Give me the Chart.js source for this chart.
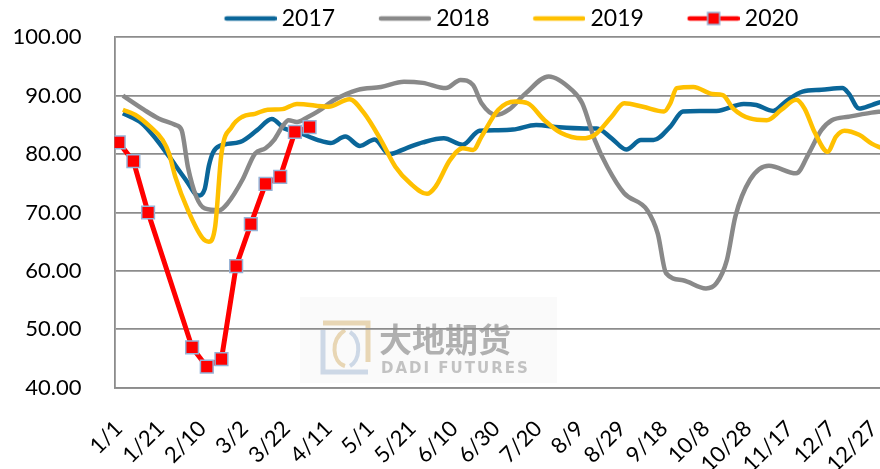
<!DOCTYPE html>
<html lang="zh">
<head>
  <meta charset="UTF-8">
  <title>开工率</title>
  <script src="https://cdn.jsdelivr.net/npm/chart.js"></script>
  <style>
    body {
      margin: 0;
      background: #fff;
      overflow: hidden;
    }
    #wrap {
      width: 986px;
      height: 469px;
    }
  </style>
</head>
<body>
  <div id="wrap"><canvas id="chart"></canvas></div>

  <script>
    // 横轴刻度（每 20 天一个）
    const tickLabels = ['1/1', '1/21', '2/10', '3/2', '3/22', '4/11', '5/1', '5/21', '6/10', '6/30',
      '7/20', '8/9', '8/29', '9/18', '10/8', '10/28', '11/17', '12/7', '12/27'];
    const tickDays = tickLabels.map((_, i) => i * 20);

    const seriesNames = ['2017', '2018', '2019', '2020'];
    const colors = ['#0A6699', '#898989', '#FFC000', '#FF0000'];

    // 数据：一年中的第几天 + 数值
    const days2017 = [2, 11, 18, 24, 32, 38, 41, 43, 45, 48, 58, 66, 73, 79, 85, 95, 101, 108, 115, 122,
      129, 137, 145, 155, 164, 172, 180, 188, 199, 210, 222, 228, 235, 242, 249, 255, 263, 269, 277, 285,
      298, 304, 312, 318, 326, 335, 345, 348, 353, 359, 364];
    const vals2017 = [87.0, 85.3, 82.5, 79.6, 75.6, 72.9, 74.0, 78.0, 80.3, 81.4, 82.1, 84.1, 86.0, 84.4, 83.8, 82.4, 81.9, 83.0, 81.4, 82.5,
      80.0, 81.0, 82.0, 82.7, 81.6, 84.0, 84.1, 84.2, 85.0, 84.6, 84.4, 84.4, 82.7, 80.8, 82.4, 82.4, 84.7, 87.3, 87.4, 87.4,
      88.6, 88.4, 87.4, 89.0, 90.7, 91.0, 91.3, 90.4, 87.8, 88.4, 89.0];

    const days2018 = [2, 12, 19, 27, 30, 33, 37, 41, 48, 52, 59, 65, 70, 74, 78, 81, 85, 90, 95, 103,
      114, 125, 136, 145, 156, 163, 169, 173, 180, 186, 194, 205, 216, 221, 227, 233, 241, 252, 257, 261,
      269, 280, 285, 290, 294, 301, 310, 323, 329, 335, 340, 348, 359, 364];
    const vals2018 = [90.0, 87.6, 86.1, 85.0, 84.1, 77.8, 72.7, 70.7, 70.4, 71.6, 75.6, 80.1, 81.0, 82.4, 84.7, 85.8, 85.5, 86.3, 87.3, 89.3,
      91.0, 91.5, 92.4, 92.2, 91.3, 92.7, 91.8, 88.7, 86.7, 87.6, 90.4, 93.3, 91.0, 88.7, 82.4, 77.8, 73.3, 70.4, 66.4, 59.6,
      58.4, 57.0, 57.9, 61.9, 69.3, 75.6, 78.0, 76.7, 80.1, 84.1, 85.8, 86.4, 87.1, 87.3];

    const days2019 = [2, 8, 15, 21, 24, 27, 33, 40, 43, 46, 49, 54, 59, 65, 71, 78, 85, 100, 110, 117,
      125, 132, 139, 147, 151, 158, 164, 169, 173, 181, 189, 195, 203, 211, 221, 227, 235, 241, 250, 260,
      263, 266, 274, 283, 288, 293, 301, 309, 316, 323, 327, 332, 338, 342, 346, 353, 359, 364];
    const vals2019 = [87.6, 86.7, 84.7, 82.4, 80.1, 76.1, 70.4, 65.6, 65.0, 67.6, 80.1, 84.7, 86.4, 86.9, 87.6, 87.7, 88.6, 88.1, 89.4, 87.0,
      82.4, 77.8, 75.0, 73.2, 74.4, 79.0, 81.0, 80.7, 83.0, 87.6, 89.0, 88.7, 85.8, 83.6, 82.7, 83.3, 86.4, 88.7, 88.1, 87.3,
      88.7, 91.3, 91.5, 90.3, 90.1, 87.8, 86.1, 85.8, 87.6, 89.3, 87.8, 83.6, 80.4, 83.0, 84.0, 83.3, 81.8, 81.0];

    const days2020 = [0, 7, 14, 35, 42, 49, 56, 63, 70, 77, 84, 91];
    const vals2020 = [82.0, 78.8, 70.0, 46.9, 43.6, 44.9, 60.8, 68.0, 74.9, 76.1, 83.8, 84.6];

    const toPoints = (days, vals) => days.map((d, i) => ({ x: d, y: vals[i] }));

    // 图例小图标：线段（2020 带方块）
    const BOX = 82.5;
    function legendIcon(color, marker) {
      const c = document.createElement('canvas');
      c.width = 2 * (BOX / 2 + 6.5);
      c.height = 16;
      const g = c.getContext('2d');
      const x0 = c.width - 52;
      g.strokeStyle = color;
      g.lineWidth = 4.5;
      g.lineCap = 'round';
      g.beginPath();
      g.moveTo(x0 + 2, 8);
      g.lineTo(c.width - 2, 8);
      g.stroke();
      if (marker) {
        g.fillStyle = '#FF0000';
        g.strokeStyle = '#95B3D7';
        g.lineWidth = 1.5;
        g.fillRect(x0 + 20, 2, 12, 12);
        g.strokeRect(x0 + 20, 2, 12, 12);
      }
      return c;
    }
    const icons = colors.map((c, i) => legendIcon(c, i === 3));

    const watermark = {
      id: 'watermark',
      beforeDraw(chart) {
        const ctx = chart.ctx;
        ctx.save();
        ctx.fillStyle = '#FAFAFA';
        ctx.fillRect(300, 297, 257, 86);
        // logo
        ctx.lineWidth = 5;
        ctx.strokeStyle = '#CDD8E6';
        ctx.beginPath();
        ctx.moveTo(323, 330);
        ctx.lineTo(323, 372);
        ctx.lineTo(368, 372);
        ctx.stroke();
        ctx.strokeStyle = '#E8D6B4';
        ctx.beginPath();
        ctx.moveTo(323, 323);
        ctx.lineTo(368, 323);
        ctx.lineTo(368, 362);
        ctx.stroke();
        ctx.lineWidth = 4;
        ctx.beginPath();
        ctx.moveTo(345, 330);
        ctx.bezierCurveTo(330, 340, 332, 362, 345, 366);
        ctx.stroke();
        ctx.strokeStyle = '#CDD8E6';
        ctx.beginPath();
        ctx.moveTo(350, 332);
        ctx.bezierCurveTo(362, 340, 360, 360, 350, 366);
        ctx.stroke();
        // 文字
        ctx.fillStyle = '#B0B0B0';
        ctx.font = 'bold 33px "Noto Sans CJK SC"';
        ctx.textBaseline = 'alphabetic';
        ctx.fillText('大地期货', 379, 352);
        ctx.fillStyle = '#C2C2C2';
        ctx.font = 'bold 15px "DejaVu Sans"';
        ctx.letterSpacing = '2px';
        ctx.fillText('DADI FUTURES', 381, 373);
        ctx.restore();
      }
    };

    const gridColor = '#8C8C8C';
    const font = { family: 'Lato', size: 22 };

    const ctx = document.getElementById('chart').getContext('2d');
    new Chart(ctx, {
      type: 'line',
      data: {
        datasets: [
          {
            label: seriesNames[0],
            data: toPoints(days2017, vals2017),
            borderColor: colors[0],
            borderWidth: 4.5,
            pointRadius: 0,
            cubicInterpolationMode: 'monotone',
            order: 4
          },
          {
            label: seriesNames[1],
            data: toPoints(days2018, vals2018),
            borderColor: colors[1],
            borderWidth: 4.5,
            pointRadius: 0,
            cubicInterpolationMode: 'monotone',
            order: 3
          },
          {
            label: seriesNames[2],
            data: toPoints(days2019, vals2019),
            borderColor: colors[2],
            borderWidth: 4.5,
            pointRadius: 0,
            cubicInterpolationMode: 'monotone',
            order: 2
          },
          {
            label: seriesNames[3],
            data: toPoints(days2020, vals2020),
            borderColor: colors[3],
            borderWidth: 5,
            tension: 0,
            pointStyle: 'rect',
            pointRadius: 9,
            pointBackgroundColor: '#FF0000',
            pointBorderColor: '#95B3D7',
            pointBorderWidth: 1.5,
            order: 1
          }
        ]
      },
      options: {
        animation: false,
        responsive: true,
        maintainAspectRatio: false,
        events: [],
        layout: { padding: 0 },
        plugins: {
          tooltip: { enabled: false },
          legend: {
            position: 'top',
            maxHeight: 37.3,
            labels: {
              usePointStyle: true,
              pointStyleWidth: BOX,
              padding: 7,
              color: '#000',
              font: { family: 'Lato', size: 23 },
              generateLabels: chart => chart.data.datasets.map((ds, i) => ({
                text: ds.label,
                pointStyle: icons[i],
                fillStyle: 'rgba(0,0,0,0)',
                strokeStyle: 'rgba(0,0,0,0)',
                lineWidth: 0,
                hidden: false,
                datasetIndex: i,
                fontColor: '#000'
              }))
            }
          }
        },
        scales: {
          x: {
            type: 'linear',
            min: -2,
            max: 408.5,
            afterBuildTicks: s => { s.ticks = tickDays.map(v => ({ value: v })); },
            afterFit: s => { s.height = 81.3; },
            grid: { display: false },
            border: { display: true, color: gridColor, width: 1.8 },
            ticks: {
              autoSkip: false,
              maxRotation: 45,
              minRotation: 45,
              color: '#000',
              font: font,
              padding: 20,
              callback: v => tickLabels[tickDays.indexOf(v)]
            }
          },
          y: {
            min: 40,
            max: 100,
            afterFit: s => { s.width = 114.5; },
            grid: { color: gridColor, lineWidth: 1.8, drawTicks: true, tickLength: 30, tickColor: 'rgba(0,0,0,0)' },
            border: { display: true, color: gridColor, width: 1.8 },
            ticks: {
              stepSize: 10,
              autoSkip: false,
              color: '#000',
              font: font,
              padding: 3,
              callback: v => v.toFixed(2)
            }
          }
        }
      },
      plugins: [watermark]
    });
  </script>
</body>
</html>
